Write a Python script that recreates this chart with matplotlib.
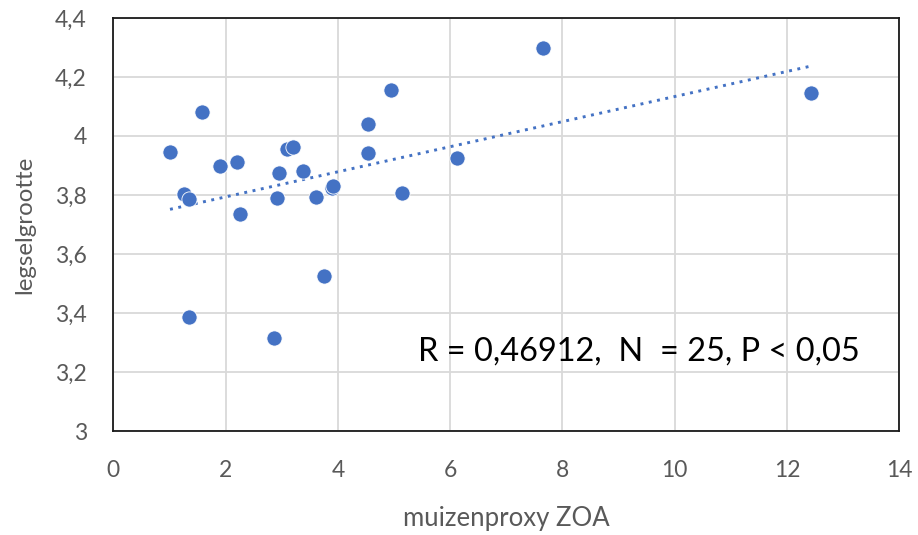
import numpy as np
import matplotlib
matplotlib.use("Agg")
import matplotlib.pyplot as plt

# muizenproxy ZOA vs legselgrootte
mouse_proxy = [1.01, 1.58, 1.26, 1.35, 1.90, 2.20, 2.25, 2.91, 2.95, 3.10,
               3.20, 3.38, 3.61, 3.89, 3.91, 4.53, 4.53, 4.94, 5.14, 3.75,
               1.35, 2.86, 7.66, 12.42, 6.13]
clutch_size = [3.946, 4.080, 3.803, 3.785, 3.899, 3.912, 3.735, 3.791, 3.873, 3.956,
               3.964, 3.882, 3.794, 3.823, 3.832, 4.042, 3.942, 4.155, 3.808, 3.525,
               3.386, 3.316, 4.298, 4.146, 3.924]

x_ticks = [0, 2, 4, 6, 8, 10, 12, 14]
y_ticks = [3.0, 3.2, 3.4, 3.6, 3.8, 4.0, 4.2, 4.4]
y_ticklabels = ["3", "3,2", "3,4", "3,6", "3,8", "4", "4,2", "4,4"]
stats_text = "R = 0,46912,  N  = 25, P < 0,05"

plt.rcParams['font.family'] = ['Lato', 'DejaVu Sans']

fig = plt.figure(figsize=(9.18, 5.35), dpi=100)
ax = fig.add_axes([113.3 / 918, 1 - 431 / 535, 786 / 918, 413 / 535])

blue = "#4472C4"
gray_text = "#595959"

ax.scatter(mouse_proxy, clutch_size, s=120, color=blue, edgecolor="white",
           linewidth=0.6, zorder=3)

# linear trend line over the data range
xs = np.array(mouse_proxy)
ys = np.array(clutch_size)
slope, intercept = np.polyfit(xs, ys, 1)
xl = np.array([xs.min(), xs.max()])
ax.plot(xl, slope * xl + intercept, color=blue, lw=2.1,
        linestyle=(0, (1, 1.9)), zorder=2)

ax.set_xlim(0, 14)
ax.set_ylim(3, 4.4)
ax.set_xticks(x_ticks)
ax.set_xticklabels([str(t) for t in x_ticks])
ax.set_yticks(y_ticks)
ax.set_yticklabels(y_ticklabels)

ax.grid(True, color="#D9D9D9", lw=1.3, zorder=0)
ax.set_axisbelow(True)
ax.tick_params(length=0, labelsize=16.5, colors=gray_text)
ax.tick_params(axis='y', pad=19)
ax.tick_params(axis='x', pad=21)
for sp in ax.spines.values():
    sp.set_color("#1a1a1a")
    sp.set_linewidth(1.3)

ax.set_xlabel("muizenproxy ZOA", fontsize=18.5, color=gray_text, labelpad=18)
ax.set_ylabel("legselgrootte", fontsize=17.3, color=gray_text, labelpad=14)

ax.text(5.42, 3.268, stats_text, fontsize=23.4, color="black",
        ha="left", va="center")

fig.savefig("out.png", dpi=100)
